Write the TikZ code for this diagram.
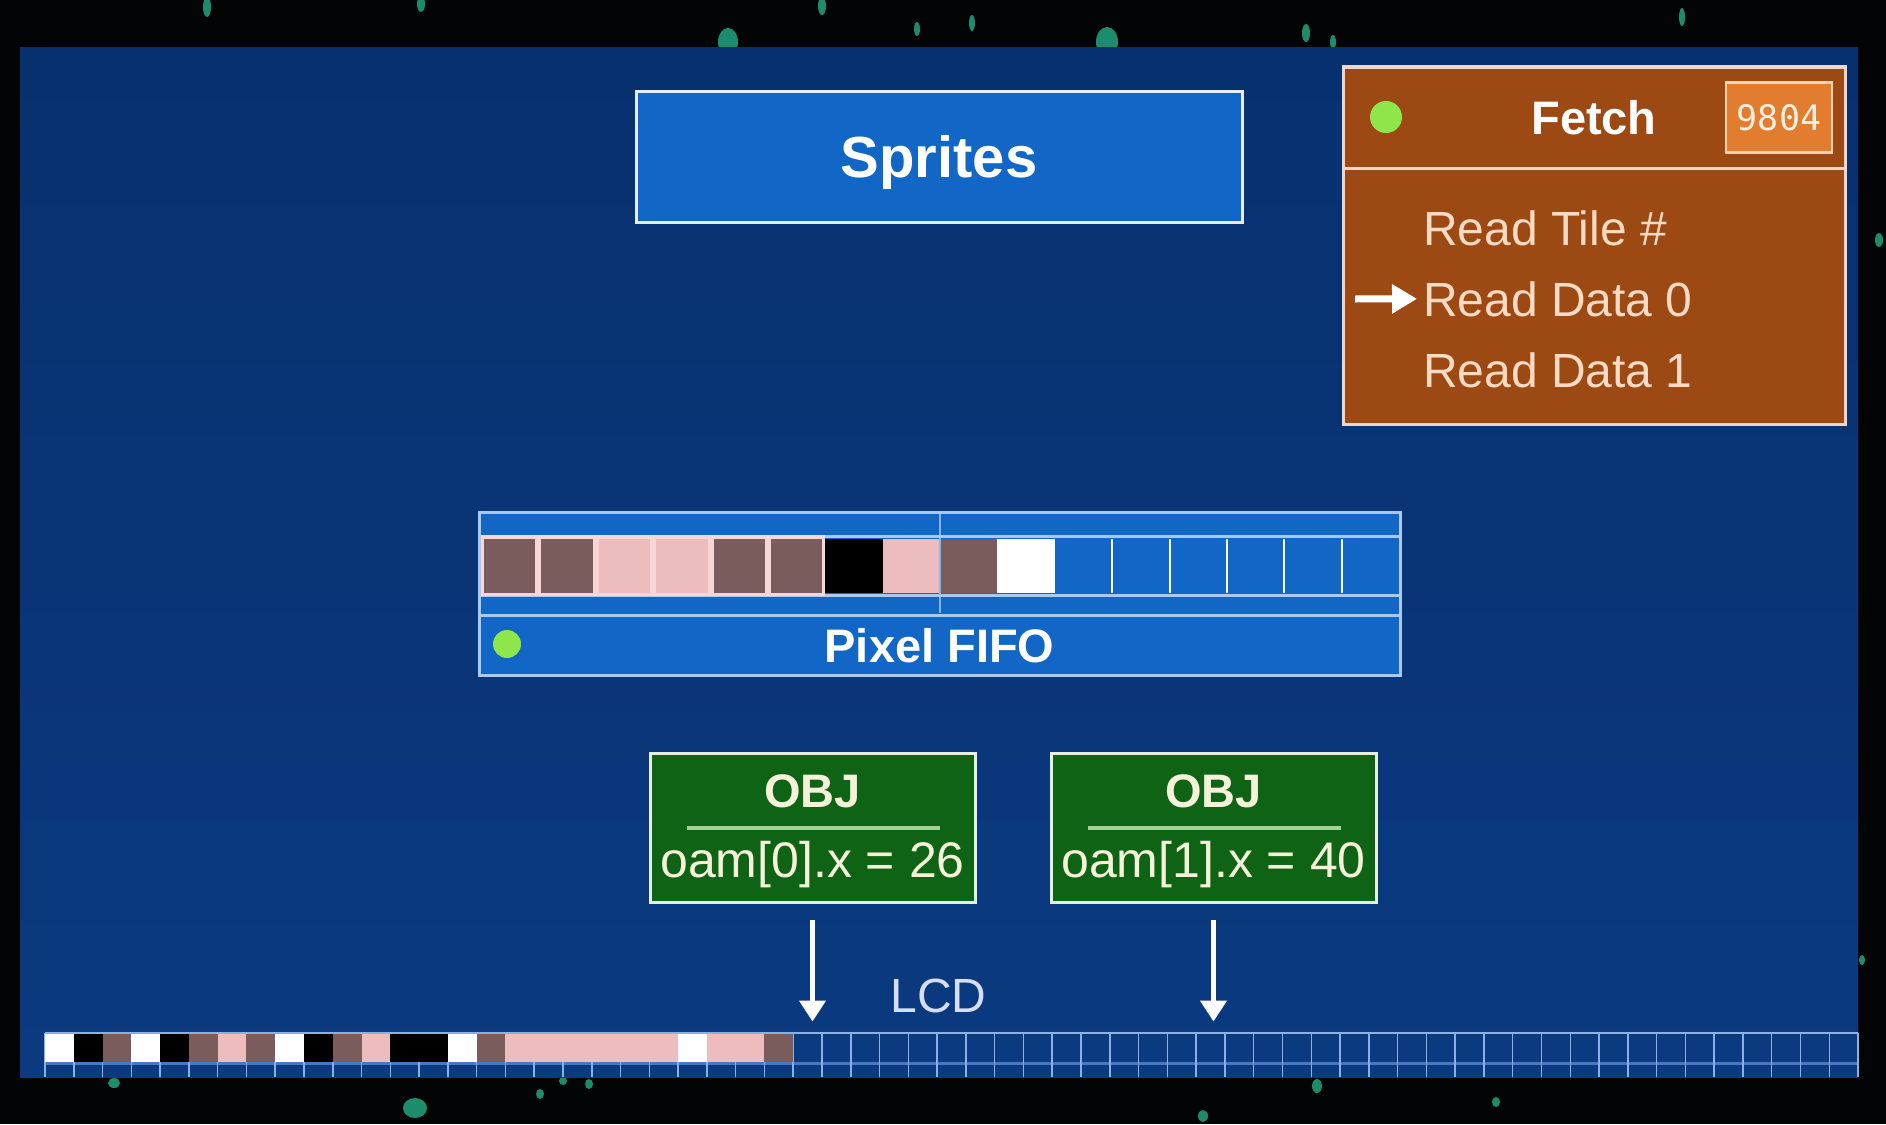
\documentclass[tikz,border=0pt]{standalone}
\usepackage{fontspec}
\setmainfont{Liberation Sans}
\newfontfamily\codefont{DejaVu Sans Mono}
\usetikzlibrary{arrows.meta}

\definecolor{bgblack}{HTML}{020406}
\definecolor{speck}{HTML}{1C8C6C}
\definecolor{paneltop}{HTML}{07306E}
\definecolor{panelbot}{HTML}{0B3A80}
\definecolor{boxblue}{HTML}{1166C6}
\definecolor{boxline}{HTML}{E4EEFF}
\definecolor{fetchfill}{HTML}{9C4913}
\definecolor{fetchline}{HTML}{F4D5CB}
\definecolor{fetchtext}{HTML}{FCDAC4}
\definecolor{badgefill}{HTML}{E27C2F}
\definecolor{badgeline}{HTML}{F9D2B4}
\definecolor{badgetext}{HTML}{FFF0E2}
\definecolor{dotgreen}{HTML}{8FE64A}
\definecolor{objfill}{HTML}{0E6414}
\definecolor{objline}{HTML}{E6F0E0}
\definecolor{objrule}{HTML}{A2D394}
\definecolor{objtext}{HTML}{F5F2DA}
\definecolor{pxbrown}{HTML}{7A5C5C}
\definecolor{pxpink}{HTML}{EDBCBE}
\definecolor{pxrim}{HTML}{F7D6D6}
\definecolor{lcdtext}{HTML}{D6DDF6}
\definecolor{gridline}{HTML}{8AB0E8}
\definecolor{gridband}{HTML}{4A78BE}
\definecolor{fifoline}{HTML}{A9C9F2}
\definecolor{divider}{HTML}{86B4F0}

\tikzset{
  framed/.style={draw, line width=3pt, inner sep=0pt},
  bigtext/.style={font=\fontsize{48}{56}\selectfont},
  boldtext/.style={font=\fontsize{47}{56}\selectfont\bfseries},
  dot/.style={circle, fill=dotgreen, inner sep=0pt, minimum size=30pt},
  stepitem/.style={anchor=base west, inner sep=0pt, text=fetchtext, bigtext},
  objbox/.style={framed, draw=objline, fill=objfill, minimum width=325pt, minimum height=149pt},
  objtitle/.style={anchor=base, inner sep=0pt, text=objtext, boldtext},
  objvalue/.style={anchor=base, inner sep=0pt, text=objtext, font=\fontsize{50}{56}\selectfont},
  objarrow/.style={draw=white, line width=4.5pt, -{Triangle[length=21pt,width=26pt]}},
  pointer/.style={draw=white, line width=7pt, -{Triangle[length=25pt,width=28pt]}},
}

\begin{document}
\begin{tikzpicture}[x=1pt,y=-1pt]
\useasboundingbox (0,0) rectangle (1886,1124);
\fill[bgblack] (0,0) rectangle (1886,1124);

% drifting particles on the dark border
\foreach \px/\py/\rx/\ry in {207/7/4/10, 421/4/4/8, 728/42/10/14, 822/6/4/9, 917/29/3/7,
  972/23/3/8, 1107/42/11/15, 1306/33/4/9, 1333/42/3/7, 1682/17/3/9,
  114/1083/6/5, 415/1108/12/10, 540/1094/4/5, 563/1081/4/4, 589/1084/4/5,
  1203/1116/5/6, 1317/1086/5/7, 1496/1102/4/5, 1879/240/4/7, 1862/960/3/5}
  \fill[speck] (\px,\py) ellipse [x radius=\rx, y radius=\ry];

% main panel
\shade[top color=paneltop, bottom color=panelbot] (20,48) rectangle (1858,1077);

% sprite unit header
\node[framed, draw=boxline, fill=boxblue, minimum width=606pt, minimum height=131pt,
      text=white, text height=41.5pt, text depth=0pt,
      font=\fontsize{58}{60}\selectfont\bfseries] (sprites) at (939,156.5) {Sprites};

% fetcher state box
\node[framed, draw=fetchline, fill=fetchfill, minimum width=502pt, minimum height=357pt] (fetch) at (1594.5,245.5) {};
\coordinate (fetchrule) at (0,168);
\draw[fetchline, line width=3pt] (fetch.west |- fetchrule) -- (fetch.east |- fetchrule);
\node[dot, minimum size=32pt] (fetchdot) at (1386,117) {};
\node[anchor=base, inner sep=0pt, text=white, boldtext] (fetchtitle) at (1594,134) {Fetch};
\node[draw=badgeline, line width=2.5pt, fill=badgefill, minimum width=106pt, minimum height=70pt,
      inner sep=0pt, text=badgetext, text height=26pt, text depth=0pt,
      font=\fontsize{35}{40}\codefont] (badge) at (1779,117.5) {9804};
\node[stepitem] (tile) at (1423,245) {Read Tile \#};
\node[stepitem] (data0) at (1423,316) {Read Data 0};
\node[stepitem] (data1) at (1423,387) {Read Data 1};
\coordinate (ptr) at (1355,299);
\draw[pointer] (ptr) -- ([xshift=-6pt]data0.west);

% pixel FIFO
\node[framed, draw=fifoline, fill=boxblue, minimum width=921pt, minimum height=163pt] (fifo) at (939.5,593.5) {};
\draw[divider, line width=1.5pt] (940,514) -- (940,613);
\draw[fifoline, line width=2.5pt] (479,536.5) -- (1400,536.5);
\draw[fifoline, line width=2.5pt] (479,595.5) -- (1400,595.5);
\draw[fifoline, line width=3pt] (479,615) -- (1400,615);
\fill[pxrim] (481,535) rectangle (825.25,596);
\foreach \c [count=\i from 0] in {pxbrown,pxbrown,pxpink,pxpink,pxbrown,pxbrown}
  \fill[\c] ({481+\i*57.375+3},539) rectangle ({481+(\i+1)*57.375-3},593);
\foreach \c [count=\i from 6] in {black,pxpink,pxbrown,white}
  \fill[\c] ({481+\i*57.375},539) rectangle ({481+(\i+1)*57.375},593);
\draw[divider, line width=1.2pt] (940,539) -- (940,593);
\foreach \k in {11,...,15}
  \draw[white, line width=2pt] ({481+\k*57.375},539) -- ({481+\k*57.375},593);
\node[dot, minimum size=28pt] (fifodot) at (507,644) {};
\node[anchor=base, inner sep=0pt, text=white, boldtext] (fifolabel) at (939.5,662) {Pixel FIFO};

% sprite entries from OAM
\node[objbox] (obj0) at (812.5,827.5) {};
\node[objbox] (obj1) at (1213.5,827.5) {};
\foreach \o in {obj0,obj1}{
  \draw[objrule, line width=4pt] ([xshift=-126pt]\o.center) -- ([xshift=127pt]\o.center);
}
\node[objtitle] (obj0title) at (812.5,807) {OBJ};
\node[objtitle] (obj1title) at (1213.5,807) {OBJ};
\node[objvalue] (obj0x) at (812.5,877) {oam[0].x = 26};
\node[objvalue] (obj1x) at (1213.5,877) {oam[1].x = 40};
\draw[objarrow] ([yshift=-16pt]obj0.south) -- ([yshift=-118pt]obj0.south);
\draw[objarrow] ([yshift=-16pt]obj1.south) -- ([yshift=-118pt]obj1.south);

\node[anchor=base, inner sep=0pt, text=lcdtext, font=\fontsize{48}{56}\selectfont] (lcd) at (938.5,1012) {LCD};

% LCD scanline
\draw[gridline, line width=2pt] (45,1033) -- (1858,1033);
\draw[gridband, line width=3pt] (45,1063.5) -- (1858,1063.5);
\foreach \k in {0,...,63}
  \draw[gridline, line width=1.5pt] ({45+\k*28.778},1033) -- ({45+\k*28.778},1077);
\foreach \c [count=\i from 0] in {white,black,pxbrown,white,black,pxbrown,pxpink,pxbrown,white,black,
    pxbrown,pxpink,black,black,white,pxbrown,pxpink,pxpink,pxpink,pxpink,pxpink,pxpink,
    white,pxpink,pxpink,pxbrown}
  \fill[\c] ({45+\i*28.778},1034) rectangle ({45+(\i+1)*28.778},1062);
\end{tikzpicture}
\end{document}
